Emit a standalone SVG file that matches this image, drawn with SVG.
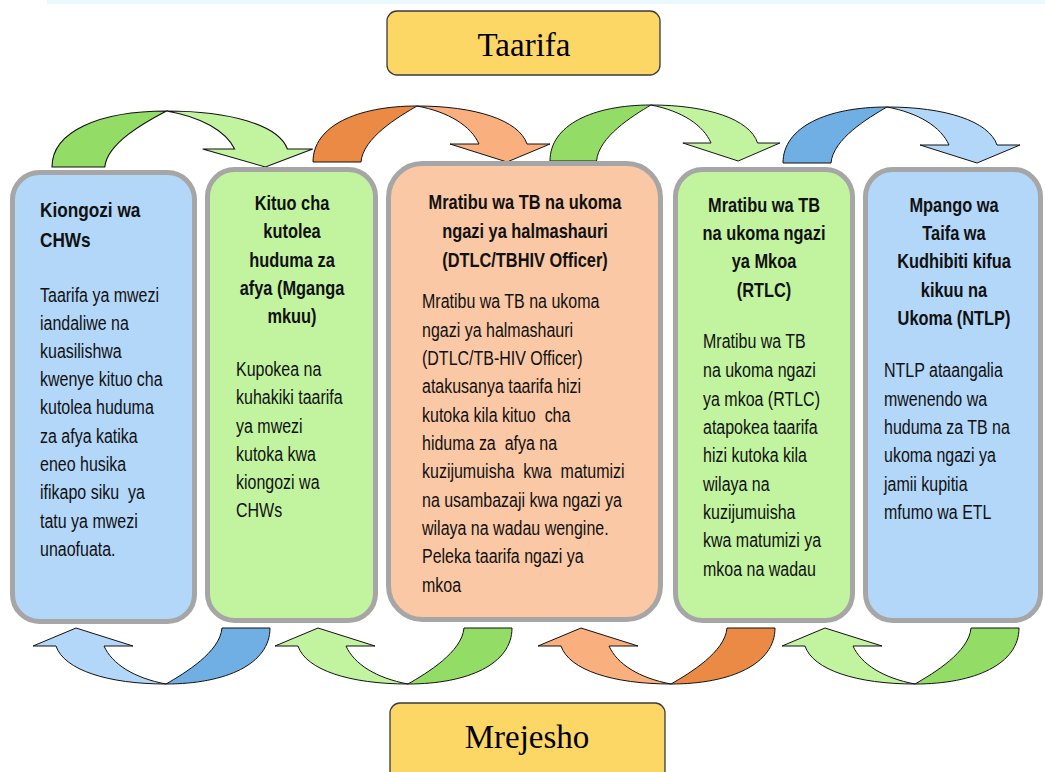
<svg xmlns="http://www.w3.org/2000/svg" width="1045" height="772" viewBox="0 0 1045 772">
<style>
.box{stroke:#a6a6a6;stroke-width:5}
.blue{fill:#b3d7f9}.green{fill:#c2f4a0}.orange{fill:#fac8a5}
.hdr{fill:#fdd766;stroke:#3a3a3a;stroke-width:1.3}
.ht{font-family:"Liberation Serif",serif;font-size:33px;fill:#000;text-anchor:middle}
.t{font-family:"Liberation Sans",Arial,sans-serif;fill:#111}
.tb{font-weight:bold;font-size:20px}
.tb1{font-weight:bold;font-size:21px}
.bd{font-size:19.5px}
.mid{text-anchor:middle}
.arr path{stroke:#111;stroke-width:1;stroke-linejoin:round}
.gD{fill:#93dd66}.gL{fill:#c2f4a0}.oD{fill:#ea8a45}.oL{fill:#fab07e}.bD{fill:#70afe4}.bL{fill:#b3d7f9}
</style>
<defs>
<path id="half1" d="M0,0 C0,-36 44,-56 104,-56 C85,-45 50,-24 48,0 Z"/>
<path id="half2" d="M104,-56 C162,-56 206,-42 214,-18 L237,-18 L194,0 L137,-18 L166,-18 C158,-36 136,-50 104,-56 Z"/>
</defs>
<rect x="47" y="0" width="998" height="4" fill="#eaf9fd"/>

<g id="connectors" class="arr">
<g transform="translate(52,167) scale(1.1,1)"><use href="#half1" class="gD" stroke="#111"/><use href="#half2" class="gL" stroke="#111"/></g>
<g transform="translate(313,162)"><use href="#half1" class="oD" stroke="#111"/><use href="#half2" class="oL" stroke="#111"/></g>
<g transform="translate(550,161) scale(0.97,1)"><use href="#half1" class="gD" stroke="#111"/><use href="#half2" class="gL" stroke="#111"/></g>
<g transform="translate(783,163)"><use href="#half1" class="bD" stroke="#111"/><use href="#half2" class="bL" stroke="#111"/></g>
<g transform="translate(270,628) rotate(180)"><use href="#half1" class="bD" stroke="#111"/><use href="#half2" class="bL" stroke="#111"/></g>
<g transform="translate(512,628) rotate(180)"><use href="#half1" class="gD" stroke="#111"/><use href="#half2" class="gL" stroke="#111"/></g>
<g transform="translate(775,628) rotate(180)"><use href="#half1" class="oD" stroke="#111"/><use href="#half2" class="oL" stroke="#111"/></g>
<g transform="translate(1019,628) rotate(180)"><use href="#half1" class="gD" stroke="#111"/><use href="#half2" class="gL" stroke="#111"/></g>
</g>

<g id="taarifa">
<rect class="hdr" x="387" y="11" width="273" height="64" rx="10"/>
<text class="ht" x="524" y="56">Taarifa</text>
</g>
<g id="mrejesho">
<rect class="hdr" x="390" y="703" width="275" height="90" rx="10"/>
<text class="ht" x="527" y="748">Mrejesho</text>
</g>

<g id="node-chws">
<rect class="box blue" x="12.5" y="172.5" width="182" height="449" rx="27"/>
<text class="t tb1" transform="translate(40,0) scale(0.82,1)"><tspan x="0" y="217">Kiongozi wa</tspan><tspan x="0" y="247">CHWs</tspan></text>
<text class="t bd" xml:space="preserve" transform="translate(40,0) scale(0.82,1)"><tspan x="0" y="302">Taarifa ya mwezi</tspan><tspan x="0" y="330">iandaliwe na</tspan><tspan x="0" y="358">kuasilishwa</tspan><tspan x="0" y="386">kwenye kituo cha</tspan><tspan x="0" y="414">kutolea huduma</tspan><tspan x="0" y="443">za afya katika</tspan><tspan x="0" y="471">eneo husika</tspan><tspan x="0" y="499">ifikapo siku  ya</tspan><tspan x="0" y="528">tatu ya mwezi</tspan><tspan x="0" y="556">unaofuata.</tspan></text>
</g>

<g id="node-kituo">
<rect class="box green" x="207.5" y="169.5" width="168" height="451" rx="27"/>
<text class="t tb mid" transform="translate(292,0) scale(0.82,1)"><tspan x="0" y="210">Kituo cha</tspan><tspan x="0" y="238">kutolea</tspan><tspan x="0" y="267">huduma za</tspan><tspan x="0" y="295">afya (Mganga</tspan><tspan x="0" y="323">mkuu)</tspan></text>
<text class="t bd" transform="translate(236,0) scale(0.82,1)"><tspan x="0" y="376">Kupokea na</tspan><tspan x="0" y="404">kuhakiki taarifa</tspan><tspan x="0" y="433">ya mwezi</tspan><tspan x="0" y="461">kutoka kwa</tspan><tspan x="0" y="489">kiongozi wa</tspan><tspan x="0" y="517">CHWs</tspan></text>
</g>

<g id="node-dtlc">
<rect class="box orange" x="388.5" y="163.5" width="272" height="456" rx="34"/>
<text class="t tb mid" transform="translate(525,0) scale(0.82,1)"><tspan x="0" y="209">Mratibu wa TB na ukoma</tspan><tspan x="0" y="238">ngazi ya halmashauri</tspan><tspan x="0" y="267">(DTLC/TBHIV Officer)</tspan></text>
<text class="t bd" xml:space="preserve" transform="translate(422,0) scale(0.82,1)"><tspan x="0" y="308">Mratibu wa TB na ukoma</tspan><tspan x="0" y="337">ngazi ya halmashauri</tspan><tspan x="0" y="365">(DTLC/TB-HIV Officer)</tspan><tspan x="0" y="393">atakusanya taarifa hizi</tspan><tspan x="0" y="422">kutoka kila kituo  cha</tspan><tspan x="0" y="450">hiduma za  afya na</tspan><tspan x="0" y="478">kuzijumuisha  kwa  matumizi</tspan><tspan x="0" y="507">na usambazaji kwa ngazi ya</tspan><tspan x="0" y="535">wilaya na wadau wengine.</tspan><tspan x="0" y="563">Peleka taarifa ngazi ya</tspan><tspan x="0" y="592">mkoa</tspan></text>
</g>

<g id="node-rtlc">
<rect class="box green" x="675.5" y="169.5" width="177" height="451" rx="27"/>
<text class="t tb mid" transform="translate(764,0) scale(0.82,1)"><tspan x="0" y="212">Mratibu wa TB</tspan><tspan x="0" y="240">na ukoma ngazi</tspan><tspan x="0" y="268">ya Mkoa</tspan><tspan x="0" y="297">(RTLC)</tspan></text>
<text class="t bd" transform="translate(703,0) scale(0.82,1)"><tspan x="0" y="348">Mratibu wa TB</tspan><tspan x="0" y="377">na ukoma ngazi</tspan><tspan x="0" y="406">ya mkoa (RTLC)</tspan><tspan x="0" y="434">atapokea taarifa</tspan><tspan x="0" y="462">hizi kutoka kila</tspan><tspan x="0" y="491">wilaya na</tspan><tspan x="0" y="519">kuzijumuisha</tspan><tspan x="0" y="547">kwa matumizi ya</tspan><tspan x="0" y="576">mkoa na wadau</tspan></text>
</g>

<g id="node-ntlp">
<rect class="box blue" x="865.5" y="169.5" width="175" height="451" rx="27"/>
<text class="t tb mid" transform="translate(954,0) scale(0.82,1)"><tspan x="0" y="212">Mpango wa</tspan><tspan x="0" y="240">Taifa wa</tspan><tspan x="0" y="268">Kudhibiti kifua</tspan><tspan x="0" y="297">kikuu na</tspan><tspan x="0" y="325">Ukoma (NTLP)</tspan></text>
<text class="t bd" transform="translate(884,0) scale(0.82,1)"><tspan x="0" y="377">NTLP ataangalia</tspan><tspan x="0" y="406">mwenendo wa</tspan><tspan x="0" y="434">huduma za TB na</tspan><tspan x="0" y="462">ukoma ngazi ya</tspan><tspan x="0" y="491">jamii kupitia</tspan><tspan x="0" y="519">mfumo wa ETL</tspan></text>
</g>
</svg>
